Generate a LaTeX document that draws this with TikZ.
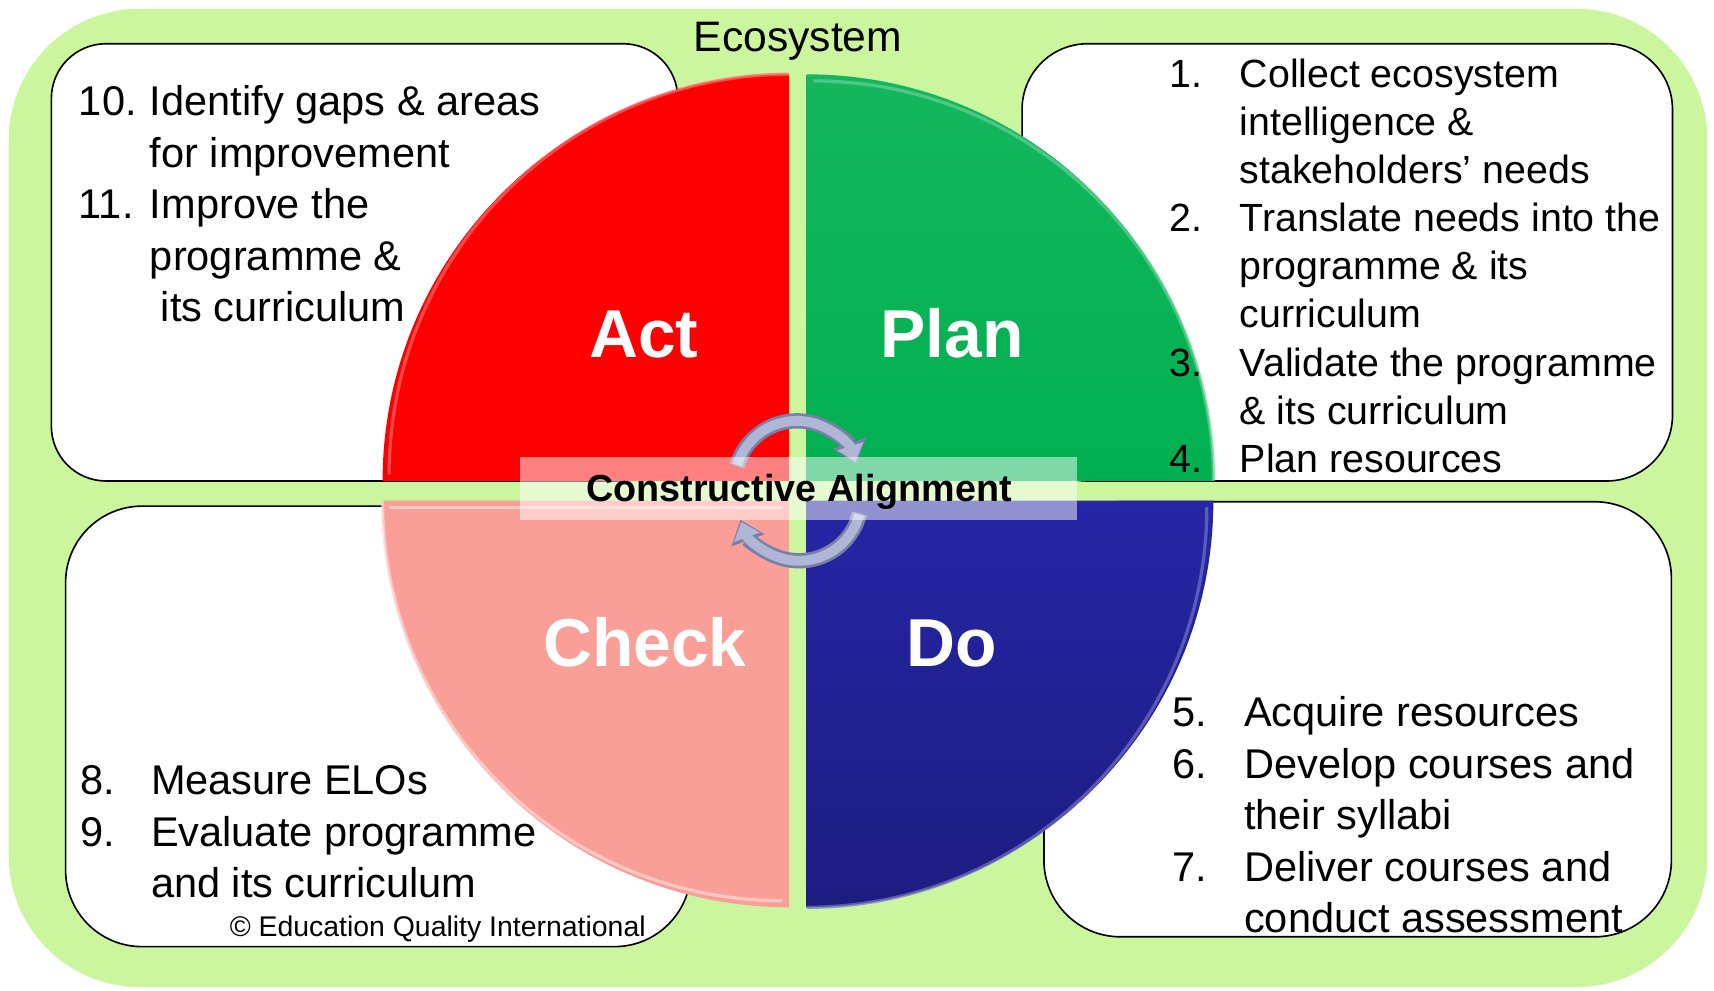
\documentclass[tikz,border=0pt]{standalone}
\usepackage{fontspec}
\setmainfont{Liberation Sans}
\usetikzlibrary{arrows.meta}
\definecolor{ecogreen}{RGB}{204,246,158}
\definecolor{actred}{RGB}{255,0,0}
\definecolor{plangreen}{RGB}{0,176,80}
\definecolor{checkpink}{RGB}{250,158,152}
\definecolor{doblue}{RGB}{38,38,166}
\definecolor{dobluedark}{RGB}{28,28,128}
\definecolor{arrowgray}{RGB}{176,182,214}
\definecolor{arrowedge}{RGB}{120,128,170}
\newcommand\itemno[2]{\makebox[#1][l]{#2}}
\begin{document}
\begin{tikzpicture}[x=1pt,y=-1pt,
  whitebox/.style={fill=white, draw=black, line width=1.5pt},
  quadlabel/.style={text=white, font=\bfseries\fontsize{62}{62}\selectfont, inner sep=0pt, anchor=base},
  listtext/.style={inner sep=0pt, anchor=base west, align=left},
  bevel/.style={line width=3pt, opacity=0.7},
  cycleouter/.style={line width=14pt, arrowedge, -{Triangle[length=20pt, width=31pt]}},
  cycleinner/.style={line width=9pt, arrowgray, -{Triangle[length=15pt, width=24pt]}, shorten >=2pt},
]
\useasboundingbox (0,0) rectangle (1568,906);
% background ecosystem
\fill[ecogreen, rounded corners=120pt] (8,8) rectangle (1562,903);
% white text boxes
\draw[whitebox, rounded corners=50pt] (47,40) rectangle (620,440);
\draw[whitebox, rounded corners=60pt] (935,40) rectangle (1530,440);
\draw[whitebox, rounded corners=70pt] (60,463) rectangle (632,866);
\draw[whitebox, rounded corners=70pt] (955,459) rectangle (1529,857);
% quadrants
\fill[actred] (722,440) -- (350,440) arc[start angle=180, end angle=270, radius=372] -- cycle;
\shade[top color=plangreen!92!white, bottom color=plangreen] (738,440) -- (738,68) arc[start angle=270, end angle=360, radius=372] -- cycle;
\fill[checkpink] (722,458) -- (722,830) arc[start angle=90, end angle=180, radius=372] -- cycle;
\shade[top color=doblue, bottom color=dobluedark] (738,458) -- (1110,458) arc[start angle=0, end angle=90, radius=372] -- cycle;
% bevel highlights
\draw[bevel, white!40!actred] (356,434) arc[start angle=180, end angle=270, radius=366];
\draw[bevel, white!40!plangreen] (744,74) arc[start angle=270, end angle=360, radius=366];
\draw[bevel, white!60!checkpink] (716,824) arc[start angle=90, end angle=180, radius=366];
\draw[bevel, white!60!checkpink] (356,464) -- (716,464);
\draw[bevel, white!35!doblue] (1104,464) arc[start angle=0, end angle=90, radius=366];
% cycle arrows
\coordinate (ctop) at (729,442);
\coordinate (cbot) at (731,456);
\draw[cycleouter] ([shift={(196:57)}]ctop) arc[start angle=196, end angle=342, radius=57];
\draw[cycleinner] ([shift={(197:57)}]ctop) arc[start angle=197, end angle=342, radius=57];
\draw[cycleouter] ([shift={(14:57)}]cbot) arc[start angle=14, end angle=160, radius=57];
\draw[cycleinner] ([shift={(15:57)}]cbot) arc[start angle=15, end angle=160, radius=57];
% translucent band
\fill[white, opacity=0.5] (476,418) rectangle (985,476);
% labels
\node[font=\fontsize{39}{39}\selectfont, anchor=base, inner sep=0pt] (eco) at (730,47) {Ecosystem};
\node[quadlabel] (act) at (589,327) {Act};
\node[quadlabel] (plan) at (871,327) {Plan};
\node[quadlabel] (check) at (590,610) {Check};
\node[quadlabel] (do) at (871,610) {Do};
\node[font=\bfseries\fontsize{34.5}{34.5}\selectfont, anchor=base, inner sep=0pt] (ca) at (731,459) {Constructive Alignment};
% lists
\node[listtext, font=\fontsize{38}{47}\selectfont] (tl) at (72,106) {\begin{tabular}[t]{@{}l@{}l@{}}
\itemno{65pt}{10.} & Identify gaps \& areas\\
 & for improvement\\
\itemno{65pt}{11.} & Improve the\\
 & programme \&\\
 & \hspace{10pt}its curriculum
\end{tabular}};
\node[listtext, font=\fontsize{36}{44}\selectfont] (tr) at (1070,80) {\begin{tabular}[t]{@{}l@{}l@{}}
\itemno{64pt}{1.} & Collect ecosystem\\
 & intelligence \&\\
 & stakeholders’ needs\\
\itemno{64pt}{2.} & Translate needs into the\\
 & programme \& its\\
 & curriculum\\
\itemno{64pt}{3.} & Validate the programme\\
 & \& its curriculum\\
\itemno{64pt}{4.} & Plan resources
\end{tabular}};
\node[listtext, font=\fontsize{38}{47}\selectfont] (bl) at (73,727) {\begin{tabular}[t]{@{}l@{}l@{}}
\itemno{65pt}{8.} & Measure ELOs\\
\itemno{65pt}{9.} & Evaluate programme\\
 & and its curriculum
\end{tabular}};
\node[listtext, font=\fontsize{38}{47}\selectfont] (br) at (1072,665) {\begin{tabular}[t]{@{}l@{}l@{}}
\itemno{66pt}{5.} & Acquire resources\\
\itemno{66pt}{6.} & Develop courses and\\
 & their syllabi\\
\itemno{66pt}{7.} & Deliver courses and\\
 & conduct assessment
\end{tabular}};
\node[font=\fontsize{26}{26}\selectfont, anchor=base west, inner sep=0pt] (copy) at (210,857) {© Education Quality International};
\end{tikzpicture}
\end{document}
